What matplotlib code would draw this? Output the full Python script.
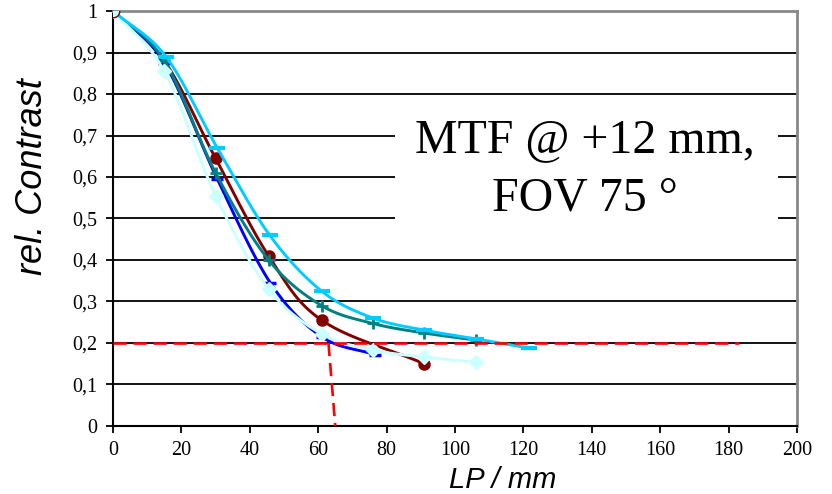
import numpy as np
import matplotlib
matplotlib.use("Agg")
import matplotlib.pyplot as plt
from matplotlib.patches import Rectangle

# ---- data ----
lp_darkred = [0, 15, 30, 45.5, 61, 91]
c_darkred = [1.0, 0.88, 0.645, 0.41, 0.255, 0.15]

lp_cyan = [0, 15.5, 30.5, 45.8, 61, 76, 91, 106, 121.5]
c_cyan = [1.0, 0.89, 0.67, 0.46, 0.325, 0.26, 0.231, 0.21, 0.188]

lp_teal = [0, 15, 30, 45.5, 61, 76, 91, 106]
c_teal = [1.0, 0.88, 0.61, 0.40, 0.29, 0.247, 0.224, 0.207]

lp_blue = [0, 15, 30.5, 46, 61, 76.5]
c_blue = [1.0, 0.875, 0.595, 0.345, 0.215, 0.172]

lp_lcyan = [0, 15, 30, 45.5, 61, 76, 91, 106]
c_lcyan = [1.0, 0.855, 0.555, 0.33, 0.222, 0.183, 0.166, 0.154]

ref_h_x = [0, 183]
ref_h_y = [0.2, 0.2]
ref_v_x = [63, 65]
ref_v_y = [0.2, 0.0]

x_ticks = list(range(0, 201, 20))
y_ticks = [0, 0.1, 0.2, 0.3, 0.4, 0.5, 0.6, 0.7, 0.8, 0.9, 1.0]
y_labels = ["0", "0,1", "0,2", "0,3", "0,4", "0,5", "0,6", "0,7", "0,8", "0,9", "1"]

title_lines = ["MTF @ +12 mm,", "FOV 75 °"]


def smooth(x, y, n=20):
    # Catmull-Rom rendering of a polyline through the given points
    x = np.asarray(x, float); y = np.asarray(y, float)
    P = np.column_stack([x, y])
    P = np.vstack([P[0] - (P[1] - P[0]), P, P[-1] + (P[-1] - P[-2])])
    out = []
    for i in range(1, len(P) - 2):
        p0, p1, p2, p3 = P[i - 1], P[i], P[i + 1], P[i + 2]
        t = np.linspace(0, 1, n, endpoint=False)[:, None]
        pts = 0.5 * ((2 * p1) + (-p0 + p2) * t + (2 * p0 - 5 * p1 + 4 * p2 - p3) * t ** 2
                     + (-p0 + 3 * p1 - 3 * p2 + p3) * t ** 3)
        out.append(pts)
    out.append(P[-2][None, :])
    out = np.vstack(out)
    return out[:, 0], out[:, 1]


fig = plt.figure(figsize=(8.32, 4.94), dpi=100)
ax = fig.add_axes([0.1358, 0.1377, 0.8222, 0.84])
ax.set_xlim(0, 200)
ax.set_ylim(0, 1)

for yv in y_ticks[1:-1]:
    ax.axhline(yv, color="black", lw=1.3, zorder=1)

series = [
    (lp_darkred, c_darkred, "#800000", "o", 8, 1),
    (lp_blue, c_blue, "#0000FF", "_", 8, 2.5),
    (lp_teal, c_teal, "#008080", "+", 9, 2),
    (lp_lcyan, c_lcyan, "#CCFFFF", "D", 7, 1),
    (lp_cyan, c_cyan, "#00CCFF", "_", 11, 3),
]
for i, (xs, ys, col, mk, ms, mew) in enumerate(series):
    sx, sy = smooth(xs, ys)
    ax.plot(sx, sy, color=col, lw=2.1, zorder=3 + i, solid_capstyle="round")
    if mk == "o":
        ax.plot(xs, ys, ls="none", marker=mk, ms=ms, color=col, zorder=3 + i)
    else:
        ax.plot(xs, ys, ls="none", marker=mk, ms=ms, color=col, mec=col,
                mew=mew, zorder=3 + i)
# first point appears as an open circle
ax.plot([0], [1.0], ls="none", marker="o", ms=9, mfc="#CCFFFF", mec="#800000", mew=1, zorder=10)

ax.plot(ref_h_x, ref_h_y, color="red", lw=1.9, ls=(0, (5, 2.6)), zorder=9)
ax.plot(ref_v_x, ref_v_y, color="red", lw=1.9, ls=(0, (5, 2.6)), zorder=9)

# white text box
ax.add_patch(Rectangle((82.5, 0.47), 112, 0.31, facecolor="white", edgecolor="none", zorder=2))
ax.text(138, 0.660, title_lines[0], ha="center", va="baseline",
        fontsize=34.5, family="Liberation Serif", zorder=11)
ax.text(138, 0.520, title_lines[1], ha="center", va="baseline",
        fontsize=34.5, family="Liberation Serif", zorder=11)

for s in ["left", "bottom"]:
    ax.spines[s].set_color("black"); ax.spines[s].set_linewidth(1.5)
for s in ["top", "right"]:
    ax.spines[s].set_color("#888888"); ax.spines[s].set_linewidth(2)

ax.set_xticks(x_ticks)
ax.set_xticklabels([str(v) for v in x_ticks])
ax.set_yticks(y_ticks)
ax.set_yticklabels(y_labels)
ax.tick_params(axis="both", direction="out", length=5, width=1.3, labelsize=14.5, color="black")
ax.tick_params(axis="x", pad=6)
ax.tick_params(axis="y", pad=6)
for lab in ax.get_xticklabels() + ax.get_yticklabels():
    lab.set_family("Liberation Serif")

ax.set_xlabel("LP / mm", fontsize=21, style="italic", family="Liberation Sans")
ax.xaxis.label.set_verticalalignment("baseline")
ax.xaxis.set_label_coords(0.57, -0.149)
ax.set_ylabel("rel. Contrast", fontsize=26, style="italic", family="Liberation Sans")
ax.yaxis.label.set_verticalalignment("center")
ax.yaxis.set_label_coords(-0.117, 0.60)

fig.savefig("out.png", dpi=100)
